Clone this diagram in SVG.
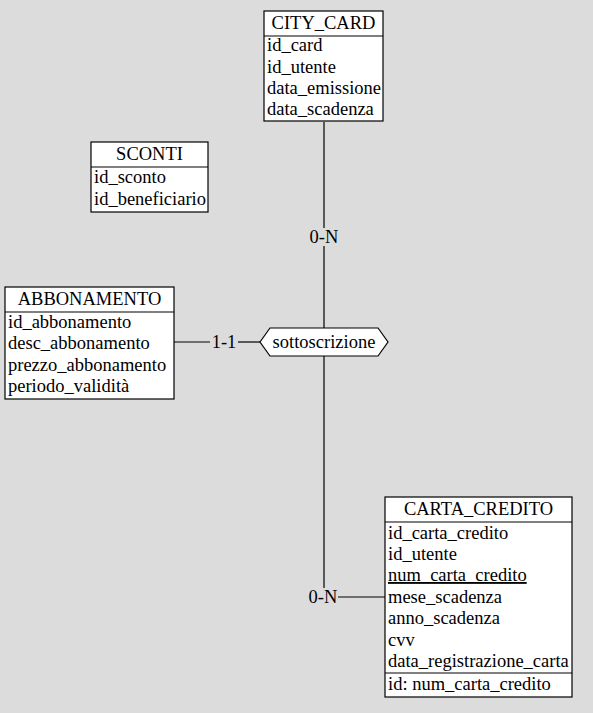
<svg xmlns="http://www.w3.org/2000/svg" width="593" height="713" viewBox="0 0 593 713">
<style>
.bg{fill:#dcdcdc}
.box{fill:#fff;stroke:#000;stroke-width:1.2}
.ln{stroke:#000;stroke-width:1.2;fill:none}
text{font-family:'Liberation Serif','Times New Roman',serif;font-size:18.5px;fill:#000}
.t{text-anchor:middle}
.lbl{text-anchor:middle}
</style>
<rect class="bg" x="0" y="0" width="593" height="713"/>
<g id="connectors">
<line class="ln" x1="324" y1="122" x2="324" y2="328"/>
<line class="ln" x1="324" y1="356" x2="324" y2="590"/>
<line class="ln" x1="338" y1="597" x2="385" y2="597"/>
<line class="ln" x1="174" y1="342" x2="210" y2="342"/>
<line class="ln" x1="238" y1="342" x2="260" y2="342"/>
<rect class="bg" x="308" y="228" width="32" height="18"/>
<text class="lbl" x="324" y="243">0-N</text>
<rect class="bg" x="308" y="588" width="30" height="18"/>
<text class="lbl" x="323" y="603">0-N</text>
<text class="lbl" x="224" y="348">1-1</text>
</g>
<g id="city_card">
<rect class="box" x="264" y="11" width="119" height="110"/>
<line class="ln" x1="264" y1="36" x2="383" y2="36"/>
<text class="t" x="323.5" y="29">CITY_CARD</text>
<text x="267" y="51">id_card</text>
<text x="267" y="73">id_utente</text>
<text x="267" y="94">data_emissione</text>
<text x="267" y="115">data_scadenza</text>
</g>
<g id="sconti">
<rect class="box" x="91" y="142" width="117" height="70"/>
<line class="ln" x1="91" y1="167" x2="208" y2="167"/>
<text class="t" x="149.5" y="160">SCONTI</text>
<text x="94" y="183">id_sconto</text>
<text x="94" y="205">id_beneficiario</text>
</g>
<g id="abbonamento">
<rect class="box" x="5" y="287" width="169" height="112"/>
<line class="ln" x1="5" y1="312" x2="174" y2="312"/>
<text class="t" x="89.5" y="305">ABBONAMENTO</text>
<text x="8" y="328">id_abbonamento</text>
<text x="8" y="349">desc_abbonamento</text>
<text x="8" y="371">prezzo_abbonamento</text>
<text x="8" y="392">periodo_validità</text>
</g>
<g id="sottoscrizione">
<polygon class="box" points="260,342 270,328 378,328 388,342 378,356 270,356"/>
<text class="t" x="324" y="348">sottoscrizione</text>
</g>
<g id="carta_credito">
<rect class="box" x="385" y="497" width="187" height="200"/>
<line class="ln" x1="385" y1="522" x2="572" y2="522"/>
<line class="ln" x1="385" y1="673" x2="572" y2="673"/>
<text class="t" x="478.5" y="515">CARTA_CREDITO</text>
<text x="388" y="539">id_carta_credito</text>
<text x="388" y="560">id_utente</text>
<text x="388" y="581" text-decoration="underline">num_carta_credito</text>
<text x="388" y="603">mese_scadenza</text>
<text x="388" y="624">anno_scadenza</text>
<text x="388" y="646">cvv</text>
<text x="388" y="667">data_registrazione_carta</text>
<text x="388" y="690">id: num_carta_credito</text>
</g>
</svg>
